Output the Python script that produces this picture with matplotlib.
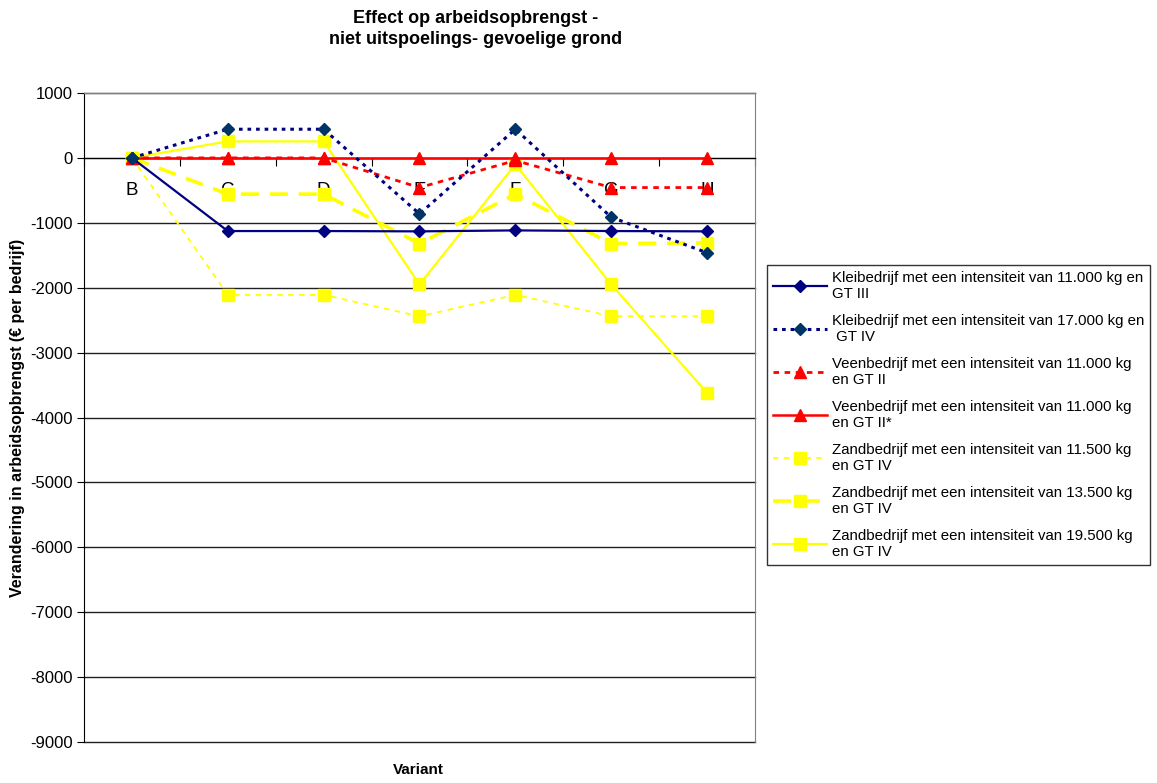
import numpy as np
import matplotlib.pyplot as plt

plt.rcParams['font.family'] = ['Liberation Sans', 'DejaVu Sans']
plt.rcParams['axes.unicode_minus'] = False

# Data
varianten = ['B', 'C', 'D', 'E', 'F', 'G', 'H']
klei_11000 = [0, -1127, -1127, -1132, -1117, -1127, -1132]
klei_17000 = [0, 442, 442, -863, 442, -914, -1462]
veen_11000 = [0, 0, 0, -457, -40, -457, -457]
veen_11000_ster = [0, 0, 0, 0, 0, 0, 0]
zand_11500 = [0, -2110, -2110, -2440, -2110, -2440, -2440]
zand_13500 = [0, -558, -558, -1320, -558, -1320, -1310]
zand_19500 = [0, 254, 254, -1950, -100, -1950, -3620]

labels = [
    'Kleibedrijf met een intensiteit van 11.000 kg en\nGT III',
    'Kleibedrijf met een intensiteit van 17.000 kg en\n GT IV',
    'Veenbedrijf met een intensiteit van 11.000 kg\nen GT II',
    'Veenbedrijf met een intensiteit van 11.000 kg\nen GT II*',
    'Zandbedrijf met een intensiteit van 11.500 kg\nen GT IV',
    'Zandbedrijf met een intensiteit van 13.500 kg\nen GT IV',
    'Zandbedrijf met een intensiteit van 19.500 kg\nen GT IV',
]

fig = plt.figure(figsize=(11.57, 7.83), dpi=100)
ax = fig.add_axes([84 / 1157, 1 - 742 / 783, (755 - 84) / 1157, (742 - 93) / 783])

x = np.arange(len(varianten)) + 0.5
navy = '#000080'
red = '#FF0000'
yellow = '#FFFF00'

# horizontal gridlines
for g in range(-9000, 1001, 1000):
    ax.axhline(g, color='#202020', lw=1, zorder=1, clip_on=False)

ax.plot(x, klei_11000, color=navy, lw=1.6, marker='D', ms=6, mfc=navy, mec=navy,
        label=labels[0], zorder=5)
ax.plot(x, klei_17000, color=navy, lw=2.2, ls=(0, (1.2, 1.6)), marker='D', ms=6,
        mfc='#003366', mec='#003366', label=labels[1], zorder=5)
ax.plot(x, veen_11000, color=red, lw=2, ls=(0, (2, 2)), marker='^', ms=8,
        mfc=red, mec=red, label=labels[2], zorder=4)
ax.plot(x, veen_11000_ster, color=red, lw=1.8, marker='^', ms=8, mfc=red, mec=red,
        label=labels[3], zorder=4)
ax.plot(x, zand_11500, color=yellow, lw=1.3, ls=(0, (3, 3)), marker='s', ms=9,
        mfc=yellow, mec=yellow, label=labels[4], zorder=3)
ax.plot(x, zand_13500, color=yellow, lw=2.6, ls=(0, (5, 3)), marker='s', ms=9,
        mfc=yellow, mec=yellow, label=labels[5], zorder=3)
ax.plot(x, zand_19500, color=yellow, lw=1.6, marker='s', ms=9, mfc=yellow, mec=yellow,
        label=labels[6], zorder=3)

ax.set_xlim(0, len(varianten))
ax.set_ylim(-9000, 1000)
ax.set_yticks(range(-9000, 1001, 1000))
ax.tick_params(axis='y', labelsize=12, length=5, color='black', pad=3)

# category axis crosses at 0
ax.spines['bottom'].set_position(('data', 0))
ax.spines['bottom'].set_color('black')
ax.spines['left'].set_color('black')
ax.spines['top'].set_color('#808080')
ax.spines['right'].set_color('#808080')
ax.set_xticks(np.arange(len(varianten) + 1))
ax.set_xticklabels([])
ax.set_xticks(x, minor=True)
ax.set_xticklabels(varianten, minor=True, fontsize=13.5)
ax.tick_params(axis='x', which='major', length=6, direction='out')
ax.tick_params(axis='x', which='minor', length=0, pad=17)

ax.set_ylabel('Verandering in arbeidsopbrengst (€ per bedrijf)', fontsize=11.5,
              fontweight='bold')
ax.yaxis.set_label_coords(-59 / 671, 0.5)
fig.text(418 / 1157, 1 - 770 / 783, 'Variant', fontsize=11, fontweight='bold',
         ha='center', va='center')
fig.text(476 / 1157, 1 - 29 / 783,
         'Effect op arbeidsopbrengst -\nniet uitspoelings- gevoelige grond',
         fontsize=13, fontweight='bold', ha='center', va='center', linespacing=1.35)

leg = fig.legend(loc='upper left', bbox_to_anchor=(767 / 1157, 1 - 265 / 783),
                 fontsize=10.8, frameon=True, fancybox=False, edgecolor='black',
                 handlelength=3.6, labelspacing=0.85, borderpad=0.4, handletextpad=0.3,
                 borderaxespad=0)
leg.get_frame().set_linewidth(1)

fig.savefig('out.png', dpi=100)
